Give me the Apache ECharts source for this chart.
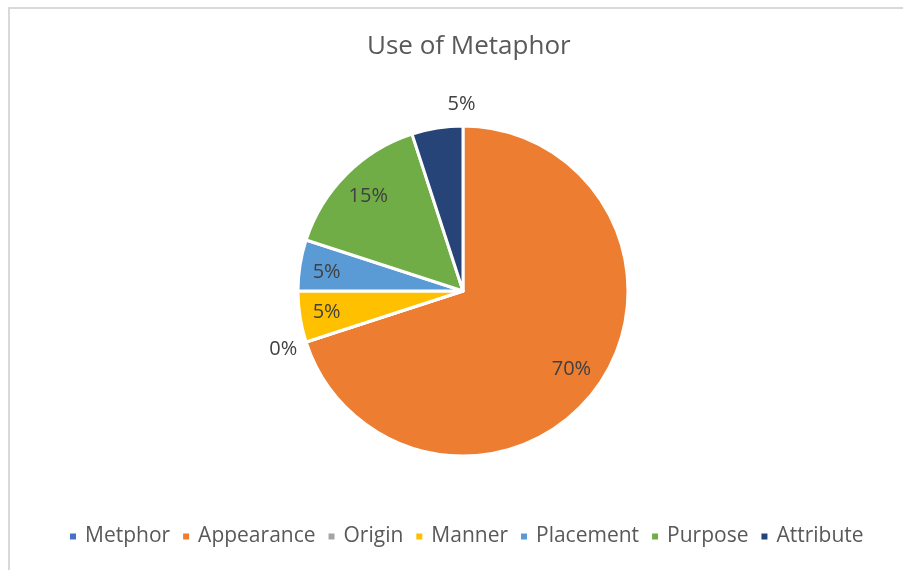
<!DOCTYPE html>
<html>
<head>
<meta charset="utf-8">
<script src="https://cdn.jsdelivr.net/npm/echarts@6/dist/echarts.min.js"></script>
<style>
  html, body { margin: 0; padding: 0; background: #fff; }
  #frame { position: absolute; left: 8px; top: 7px; width: 895px; height: 563px;
           border-top: 2px solid #d9d9d9; border-left: 2px solid #d9d9d9; }
  #main { position: absolute; left: 0; top: 0; width: 903px; height: 570px; }
</style>
</head>
<body>
<div id="frame"></div>
<div id="main"></div>
<script>
var chartDom = document.getElementById('main');
var myChart = echarts.init(chartDom);

// data
var categories = ['Metphor', 'Appearance', 'Origin', 'Manner', 'Placement', 'Purpose', 'Attribute'];
var values = [0, 70, 0, 5, 5, 15, 5];
var colors = ['#4472C4', '#ED7D31', '#A5A5A5', '#FFC000', '#5B9BD5', '#70AD47', '#264478'];
var labelPlace = ['none', 'inside', 'outside', 'inside', 'inside', 'inside', 'outside']; // where excel put the label

var font = '"Open Sans", "Liberation Sans", sans-serif';
var total = values.reduce(function(a, b) { return a + b; }, 0);

function pct(p) { return Math.round(p.value / total * 100) + '%'; }

var mainData = [], innerData = [], outerData = [];
for (var i = 0; i < categories.length; i++) {
    mainData.push({ name: categories[i], value: values[i], itemStyle: { color: colors[i] } });
    innerData.push({ name: categories[i], value: values[i], label: { show: labelPlace[i] == 'inside' } });
    outerData.push({ name: categories[i], value: values[i], label: { show: labelPlace[i] == 'outside' } });
}
outerData[6].label.offset = [28, 0]; // top label sits centered over slice edge
innerData[3].label.offset = [-4, 0];
innerData[4].label.offset = [-4, 2];

var ghost = { //透明的饼，只用来放标签
    type: 'pie',
    center: [463, 291],
    startAngle: 90,
    silent: true,
    itemStyle: { color: 'transparent', borderWidth: 0 },
    emphasis: { disabled: true },
    labelLine: { show: false },
    avoidLabelOverlap: false,
    label: { position: 'inside', formatter: pct, color: '#404040', fontSize: 20, fontFamily: font }
};

var option = {
    animation: false,
    title: {
        text: 'Use of Metaphor',
        left: 362,
        top: 29,
        textStyle: { fontFamily: font, fontSize: 26, fontWeight: 'normal', color: '#595959' }
    },
    legend: {
        bottom: 18,
        left: 63,
        icon: 'rect',
        itemWidth: 8,
        itemHeight: 8,
        itemGap: 11,
        data: categories,
        textStyle: { fontFamily: font, fontSize: 21, color: '#595959', padding: [0, 0, 0, 3] }
    },
    series: [
        {
            type: 'pie',
            center: [463, 291],
            radius: [0, 165],
            startAngle: 90,
            data: mainData,
            label: { show: false },
            labelLine: { show: false },
            itemStyle: { borderColor: '#fff', borderWidth: 3 },
            emphasis: { disabled: true }
        },
        Object.assign({}, ghost, { radius: [0, 262], data: innerData }),
        Object.assign({}, ghost, { radius: [0, 372], data: outerData })
    ]
};
option && myChart.setOption(option);
</script>
</body>
</html>
